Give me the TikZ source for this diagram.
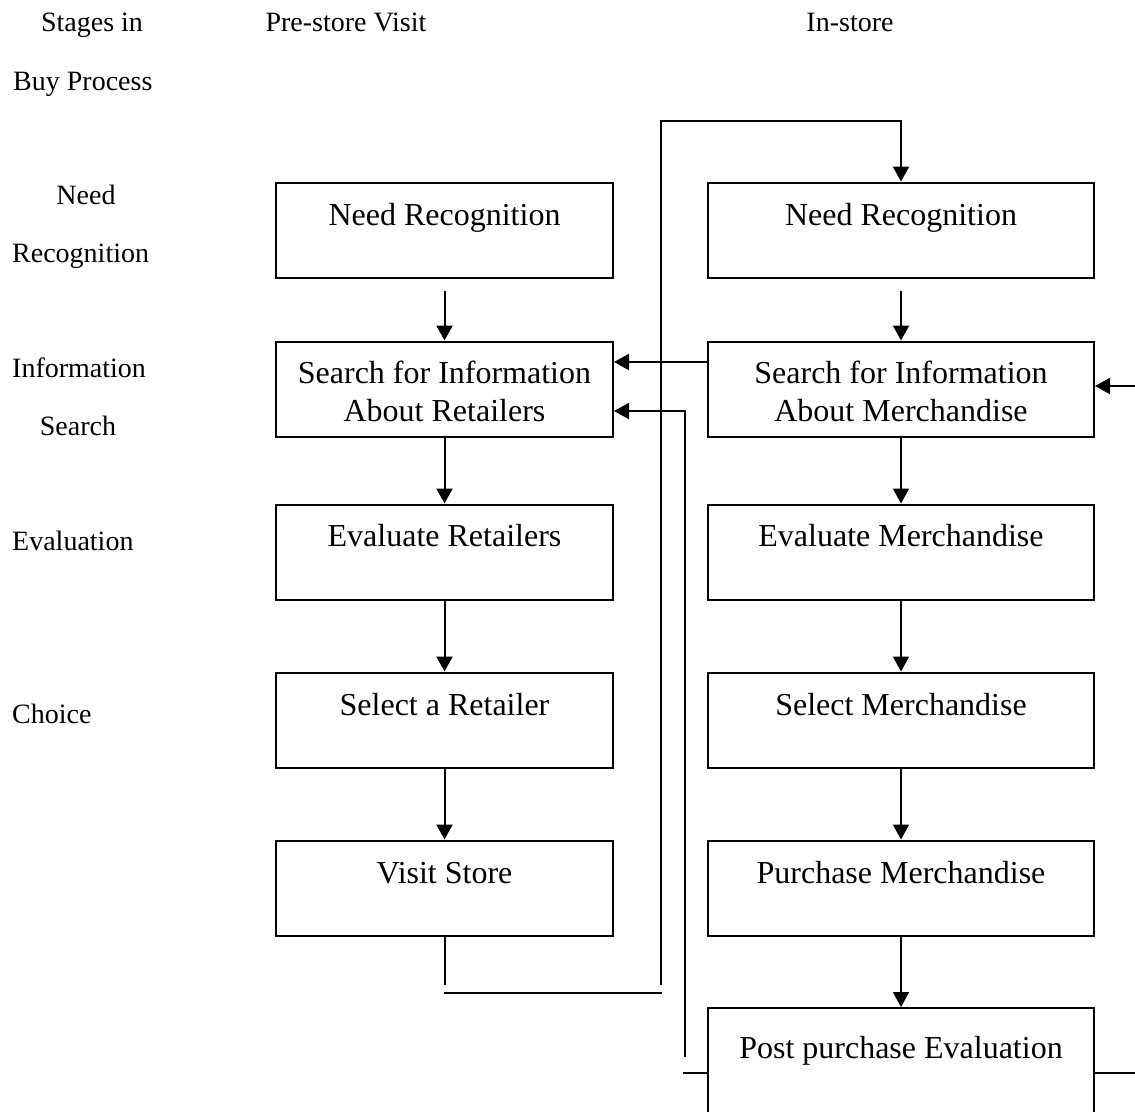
\documentclass[tikz,border=0pt]{standalone}
\usepackage{fontspec}
\setmainfont{Liberation Serif}
\usetikzlibrary{arrows.meta}
\begin{document}
\begin{tikzpicture}[x=1pt,y=-1pt,
  lbox/.style={draw,line width=2pt,minimum width=337pt,minimum height=95pt,inner sep=0pt},
  rbox/.style={draw,line width=2pt,minimum width=386pt,minimum height=95pt,inner sep=0pt},
  btxt/.style={font=\fontsize{32}{38}\selectfont,anchor=base,inner sep=0pt},
  lab/.style={font=\fontsize{28}{34}\selectfont,anchor=base,inner sep=0pt},
  labw/.style={font=\fontsize{28}{34}\selectfont,anchor=base west,inner sep=0pt},
  wire/.style={line width=2pt},
  arr/.style={line width=2pt,-{Triangle[length=15pt,width=16pt]}}]
\useasboundingbox[fill=white] (0,0) rectangle (1135,1111);
% header labels
\node[lab] (h1) at (92,31) {Stages in};
\node[labw] (h2) at (13,90) {Buy Process};
\node[lab] (h3) at (346,31) {Pre-store Visit};
\node[lab] (h4) at (850,31) {In-store};
% stage labels
\node[lab] (s1a) at (86,204) {Need};
\node[labw] (s1b) at (12,262) {Recognition};
\node[labw] (s2a) at (12,377) {Information};
\node[lab] (s2b) at (78,435) {Search};
\node[labw] (s3) at (12,550) {Evaluation};
\node[labw] (s4) at (12,723) {Choice};
% left boxes
\node[lbox] (L1) at (444.5,230) {};
\node[lbox] (L2) at (444.5,389) {};
\node[lbox] (L3) at (444.5,552) {};
\node[lbox] (L4) at (444.5,720) {};
\node[lbox] (L5) at (444.5,888) {};
% right boxes
\node[rbox] (R1) at (901,230) {};
\node[rbox] (R2) at (901,389) {};
\node[rbox] (R3) at (901,552) {};
\node[rbox] (R4) at (901,720) {};
\node[rbox] (R5) at (901,888) {};
\node[rbox,minimum height=130pt] (R6) at (901,1073) {};
% box texts
\node[btxt] (L1t) at (444.5,225) {Need Recognition};
\node[btxt] (L2t) at (444.5,383) {Search for Information};
\node[btxt] (L2u) at (444.5,421) {About Retailers};
\node[btxt] (L3t) at (444.5,546) {Evaluate Retailers};
\node[btxt] (L4t) at (444.5,715) {Select a Retailer};
\node[btxt] (L5t) at (444.5,883) {Visit Store};
\node[btxt] (R1t) at (901,225) {Need Recognition};
\node[btxt] (R2t) at (901,383) {Search for Information};
\node[btxt] (R2u) at (901,421) {About Merchandise};
\node[btxt] (R3t) at (901,546) {Evaluate Merchandise};
\node[btxt] (R4t) at (901,715) {Select Merchandise};
\node[btxt] (R5t) at (901,883) {Purchase Merchandise};
\node[btxt] (R6t) at (901,1058) {Post purchase Evaluation};
% vertical flow arrows
\draw[arr] ([yshift=-12pt]L1.south) -- (L2.north);
\draw[arr] (L2.south) -- (L3.north);
\draw[arr] (L3.south) -- (L4.north);
\draw[arr] (L4.south) -- (L5.north);
\draw[arr] ([yshift=-12pt]R1.south) -- (R2.north);
\draw[arr] (R2.south) -- (R3.north);
\draw[arr] (R3.south) -- (R4.north);
\draw[arr] (R4.south) -- (R5.north);
\draw[arr] (R5.south) -- (R6.north);
% horizontal arrows into left search box
\draw[arr] ([yshift=27pt]R2.west) -- ([yshift=27pt]L2.east);
\coordinate (c1) at (685,1057);
\draw[arr] (c1) |- ([yshift=-22pt]L2.east);
% post purchase side lines
\coordinate (c2) at (683,1073);
\draw[wire] (R6.west |- c2) -- (c2);
\coordinate (c3) at (1135,1073);
\draw[wire] (R6.east |- c3) -- (c3);
% right edge arrow
\coordinate (c4) at (1135,386);
\draw[arr] (c4) -- (R2.east |- c4);
% loop from Visit Store to in-store Need Recognition
\coordinate (c5) at (446,985);
\draw[wire] (L5.south) -- (L5.south |- c5);
\coordinate (c6) at (444,993);
\coordinate (c7) at (662,993);
\draw[wire] (c6) -- (c7);
\coordinate (c8) at (661,985);
\coordinate (c9) at (661,121);
\draw[arr] (c8) -- (c9) -| (R1.north);
\end{tikzpicture}
\end{document}
